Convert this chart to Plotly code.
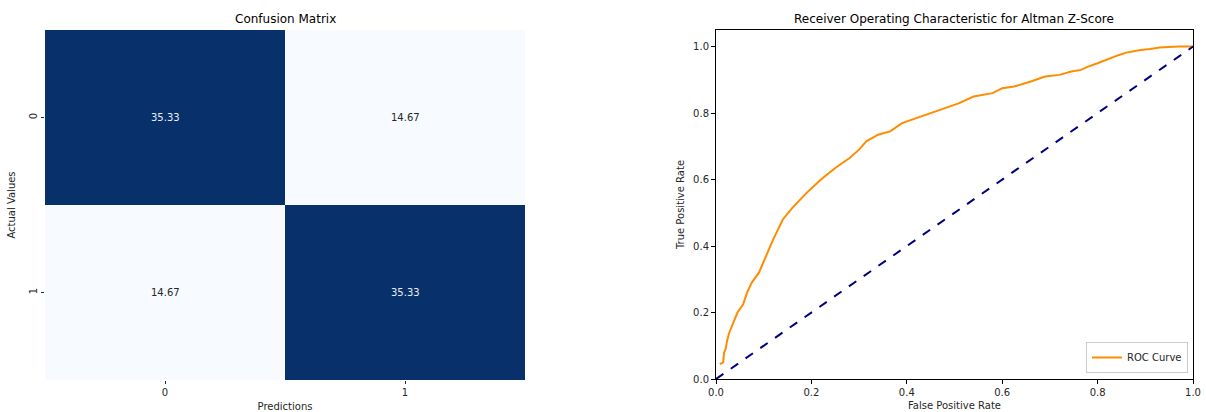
import plotly.graph_objects as go

# ---- data ----
cm_labels = ["0", "1"]
cm_values = [[35.33, 14.67],
             [14.67, 35.33]]

fpr = [0.008, 0.015, 0.017, 0.02, 0.024, 0.028, 0.035, 0.045, 0.05, 0.057, 0.065,
       0.075, 0.09, 0.105, 0.12, 0.14, 0.16, 0.19, 0.22, 0.25, 0.28, 0.30, 0.315,
       0.34, 0.365, 0.39, 0.41, 0.45, 0.48, 0.51, 0.54, 0.58, 0.60, 0.625, 0.66,
       0.69, 0.72, 0.745, 0.765, 0.78, 0.80, 0.82, 0.835, 0.845, 0.86, 0.89, 0.91, 0.93,
       0.97, 1.0]
tpr = [0.045, 0.05, 0.08, 0.09, 0.12, 0.14, 0.165, 0.2, 0.21, 0.225, 0.26,
       0.29, 0.32, 0.37, 0.42, 0.48, 0.515, 0.56, 0.60, 0.635, 0.665, 0.69, 0.715,
       0.735, 0.745, 0.77, 0.78, 0.80, 0.815, 0.83, 0.85, 0.86, 0.875, 0.88, 0.895,
       0.91, 0.915, 0.925, 0.93, 0.94, 0.95, 0.962, 0.97, 0.975, 0.982, 0.99, 0.993, 0.997,
       1.0, 1.0]
diag = [0.0, 1.0]

W, H = 1206, 412
FONT = "DejaVu Sans"
TXT = "#262626"

def px(x):
    return x / W

def py(y):
    return 1 - y / H

fig = go.Figure()

# Confusion matrix heatmap
fig.add_trace(go.Heatmap(
    z=cm_values, x=cm_labels, y=cm_labels,
    colorscale="Blues", showscale=False, xaxis="x", yaxis="y",
    zmin=min(min(r) for r in cm_values), zmax=max(max(r) for r in cm_values),
    hoverinfo="skip",
))
zmid = (max(max(r) for r in cm_values) + min(min(r) for r in cm_values)) / 2
for i, row in enumerate(cm_values):
    for j, v in enumerate(row):
        fig.add_annotation(x=cm_labels[j], y=cm_labels[i], xref="x", yref="y",
                           text=f"{v:.2f}", showarrow=False,
                           font=dict(family=FONT, size=10,
                                     color="#e8eef6" if v > zmid else TXT))

# ROC
fig.add_trace(go.Scatter(x=fpr, y=tpr, mode="lines", name="ROC Curve",
                         line=dict(color="darkorange", width=2),
                         xaxis="x2", yaxis="y2"))
fig.add_trace(go.Scatter(x=diag, y=diag, mode="lines", showlegend=False,
                         line=dict(color="navy", width=2, dash="dash"),
                         xaxis="x2", yaxis="y2"))

ticks = [0, 0.2, 0.4, 0.6, 0.8, 1.0]
fig.update_layout(
    width=W, height=H, margin=dict(l=0, r=0, t=0, b=0, autoexpand=False),
    paper_bgcolor="white", plot_bgcolor="white",
    font=dict(family=FONT, size=10, color=TXT),
    xaxis=dict(domain=[px(45), px(525)], anchor="y", showgrid=False, zeroline=False,
               showline=False, ticks="outside", ticklen=3, tickcolor=TXT, automargin=False,
               title=dict(text="Predictions", standoff=6, font=dict(size=10))),
    yaxis=dict(domain=[py(380), py(30)], anchor="x", showgrid=False, zeroline=False,
               showline=False, ticks="outside", ticklen=3, tickcolor=TXT, automargin=False,
               autorange="reversed", tickangle=-90,
               title=dict(text="Actual Values", standoff=10, font=dict(size=10))),
    xaxis2=dict(domain=[px(716), px(1193)], anchor="y2", range=[0, 1], automargin=False,
                showgrid=False, zeroline=False, showline=True, linecolor="black",
                linewidth=1, mirror=True, ticks="outside", ticklen=4, tickcolor="black",
                tickvals=ticks, ticktext=[f"{t:.1f}" for t in ticks],
                title=dict(text="False Positive Rate", standoff=4, font=dict(size=10))),
    yaxis2=dict(domain=[py(379), py(30)], anchor="x2", range=[0, 1.05], automargin=False,
                showgrid=False, zeroline=False, showline=True, linecolor="black",
                linewidth=1, mirror=True, ticks="outside", ticklen=4, tickcolor="black",
                tickvals=ticks, ticktext=[f"{t:.1f}" for t in ticks],
                title=dict(text="True Positive Rate", standoff=6, font=dict(size=10))),
    legend=dict(x=px(1188), y=py(373), xanchor="right", yanchor="bottom",
                bgcolor="white", bordercolor="#cccccc", borderwidth=1,
                font=dict(size=10)),
    showlegend=True,
)

fig.add_annotation(x=(px(45) + px(525)) / 2, y=py(19), xref="paper", yref="paper",
                   xanchor="center", yanchor="middle",
                   text="Confusion Matrix", showarrow=False,
                   font=dict(family=FONT, size=12, color="black"))
fig.add_annotation(x=(px(716) + px(1193)) / 2, y=py(19), xref="paper", yref="paper",
                   xanchor="center", yanchor="middle",
                   text="Receiver Operating Characteristic for Altman Z-Score", showarrow=False,
                   font=dict(family=FONT, size=12, color="black"))

fig.write_html("out.html", config={"displayModeBar": False},
               post_script="document.body.style.margin='0';document.body.style.overflow='hidden';")
